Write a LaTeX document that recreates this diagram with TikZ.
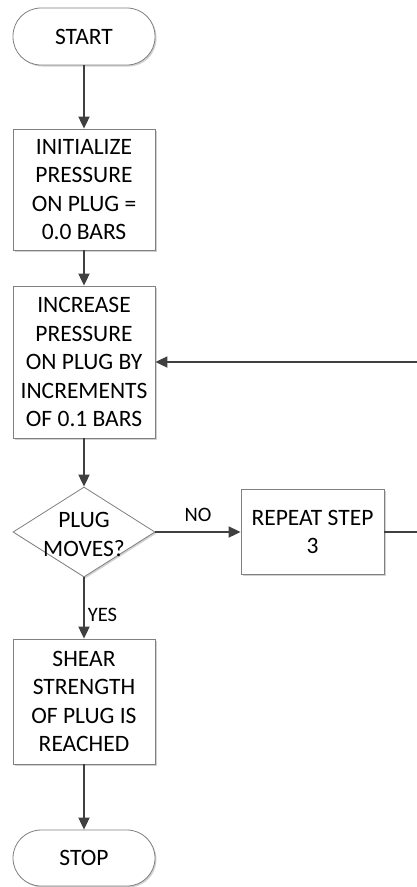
\documentclass[tikz,border=0pt]{standalone}
\usepackage{fontspec}
\setmainfont{Carlito}
\usetikzlibrary{arrows.meta,shapes.geometric,shadows}
\definecolor{linec}{HTML}{404040}
\definecolor{boxc}{HTML}{808080}
\tikzset{
  shd/.style={drop shadow={shadow xshift=1.5pt,shadow yshift=-1.5pt,fill=black!30,opacity=0.6}},
  term/.style={draw=boxc,line width=0.8pt,fill=white,rounded corners=28pt,minimum width=142pt,inner sep=0pt,font=\fontsize{23.5}{28.5}\selectfont,shd},
  procbox/.style={draw=boxc,line width=0.8pt,fill=white,minimum width=142pt,inner sep=0pt,align=center,font=\fontsize{23.5}{28.5}\selectfont,shd},
  decbox/.style={draw=boxc,line width=0.8pt,fill=white,diamond,aspect=1.58,minimum width=142pt,minimum height=90pt,inner sep=0pt,shd},
  txt/.style={align=center,inner sep=0pt,font=\fontsize{23.5}{29}\selectfont},
  lbl/.style={inner sep=0pt,font=\fontsize{20.5}{24}\selectfont},
  conn/.style={draw=linec,line width=1.8pt,-{Triangle[length=12pt,width=11pt]}},
  plain/.style={draw=linec,line width=1.8pt}
}
\begin{document}
\begin{tikzpicture}[x=1pt,y=-1pt]
\useasboundingbox (0,0) rectangle (417,887);
\node[term,minimum height=57pt] (start) at (84,36.5) {START};
\node[procbox,minimum height=121pt] (init) at (84,189.5) {INITIALIZE\\PRESSURE\\ON PLUG =\\0.0 BARS};
\node[procbox,minimum height=152pt] (inc) at (84,362) {INCREASE\\PRESSURE\\ON PLUG BY\\INCREMENTS\\OF 0.1 BARS};
\node[decbox] (dec) at (84,532) {};
\node[txt] (dect) at (84,534) {PLUG\\MOVES?};
\node[procbox,minimum height=125pt] (shear) at (84,701.5) {SHEAR\\STRENGTH\\OF PLUG IS\\REACHED};
\node[term,minimum height=56pt] (stop) at (84,858) {STOP};
\node[procbox,minimum width=143pt,minimum height=85pt] (rep) at (312.5,532) {REPEAT STEP\\3};
\coordinate (c1) at (420,532);
\coordinate (c2) at (420,362);
\draw[conn] (start) -- (init);
\draw[conn] (init) -- (inc);
\draw[conn] (inc) -- (dec);
\draw[conn] (dec) -- node[lbl,right=3pt,pos=0.62] (yes) {YES} (shear);
\draw[conn] (shear) -- (stop);
\draw[conn] (dec.east) -- node[lbl,above=9pt,pos=0.5] (no) {NO} (rep.west);
\draw[plain] (rep.east) -- (c1) -- (c2);
\draw[conn] (c2) -- (inc.east);
\end{tikzpicture}
\end{document}
